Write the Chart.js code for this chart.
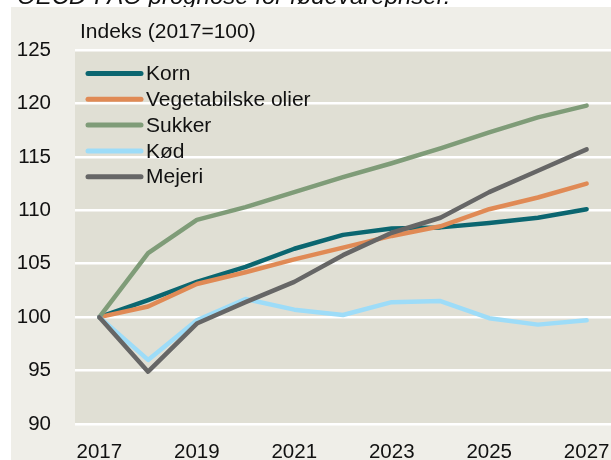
<!DOCTYPE html>
<html>
<head>
<meta charset="utf-8">
<script src="https://cdn.jsdelivr.net/npm/chart.js@4"></script>
<style>
  html, body { margin: 0; padding: 0; background: #ffffff; }
  canvas { display: block; }
</style>
</head>
<body>
<canvas id="c" width="611" height="460"></canvas>
<script>
const years = ['2017','2018','2019','2020','2021','2022','2023','2024','2025','2026','2027'];
const korn     = [100, 101.6, 103.3, 104.7, 106.4, 107.7, 108.3, 108.4, 108.8, 109.3, 110.1];
const vegOlier = [100, 101.0, 103.1, 104.2, 105.4, 106.5, 107.6, 108.5, 110.1, 111.2, 112.5];
const sukker   = [100, 106.0, 109.1, 110.3, 111.7, 113.1, 114.4, 115.8, 117.3, 118.7, 119.8];
const koed     = [100, 96.0, 99.7, 101.7, 100.7, 100.2, 101.4, 101.5, 99.9, 99.3, 99.7];
const mejeri   = [100, 94.9, 99.4, 101.4, 103.3, 105.8, 107.9, 109.3, 111.7, 113.7, 115.7];
const seriesNames = ['Korn', 'Vegetabilske olier', 'Sukker', 'Kød', 'Mejeri'];
const titleText = 'OECD-FAO prognose for fødevarepriser.';
const axisNote = 'Indeks (2017=100)';

const colors = {
  'Korn': '#0b6670',
  'Vegetabilske olier': '#e08a55',
  'Sukker': '#7f9c78',
  'Kød': '#9ddcf8',
  'Mejeri': '#666666'
};
const FONT = '"Liberation Sans", Arial, sans-serif';

function ds(label, data) {
  return {
    label, data,
    borderColor: colors[label],
    backgroundColor: colors[label],
    borderWidth: 4.5,
    pointRadius: 0,
    tension: 0,
    borderCapStyle: 'round',
    borderJoinStyle: 'round',
    fill: false
  };
}

const bgPlugin = {
  id: 'bg',
  beforeDraw(chart) {
    const ctx = chart.ctx, a = chart.chartArea;
    ctx.save();
    ctx.fillStyle = '#ffffff';
    ctx.fillRect(0, 0, chart.width, chart.height);
    ctx.fillStyle = '#111111';
    ctx.font = 'italic 24px ' + FONT;
    ctx.textBaseline = 'alphabetic';
    ctx.fillText(titleText, 17, 4);
    ctx.fillStyle = '#efeee8';
    ctx.fillRect(11, 7, chart.width - 11, chart.height - 7);
    ctx.fillStyle = '#e0dfd4';
    ctx.fillRect(a.left, a.top, a.right - a.left, a.bottom - a.top);
    ctx.restore();
  },
  afterDraw(chart) {
    const ctx = chart.ctx;
    ctx.save();
    ctx.fillStyle = '#111111';
    ctx.font = '21px ' + FONT;
    ctx.textBaseline = 'middle';
    ctx.fillText(axisNote, 80, 32);
    const y0 = 73.5, dy = 25.8;
    seriesNames.forEach((n, i) => {
      const y = y0 + i * dy;
      ctx.strokeStyle = colors[n];
      ctx.lineWidth = 5;
      ctx.lineCap = 'round';
      ctx.beginPath();
      ctx.moveTo(88, y);
      ctx.lineTo(141, y);
      ctx.stroke();
      ctx.fillStyle = '#111111';
      ctx.fillText(n, 146, y + 1);
    });
    ctx.restore();
  }
};

new Chart(document.getElementById('c'), {
  type: 'line',
  data: {
    labels: years,
    datasets: [
      ds('Mejeri', mejeri),
      ds('Kød', koed),
      ds('Sukker', sukker),
      ds('Vegetabilske olier', vegOlier),
      ds('Korn', korn)
    ]
  },
  options: {
    responsive: false,
    animation: false,
    devicePixelRatio: 1,
    layout: { padding: { top: 50, left: 0, right: 0, bottom: 0 } },
    plugins: { legend: { display: false }, tooltip: { enabled: false } },
    scales: {
      x: {
        type: 'category',
        offset: true,
        grid: { display: false, drawTicks: false },
        border: { display: false },
        ticks: {
          autoSkip: false, maxRotation: 0, minRotation: 0,
          padding: 16,
          color: '#111111',
          font: { family: FONT, size: 20.5 },
          callback: (v, i) => (i % 2 === 0 ? years[i] : '')
        },
        afterFit: s => { s.height = 36; s.paddingLeft = 0; s.paddingRight = 0; }
      },
      y: {
        min: 90, max: 125,
        grid: { color: '#ffffff', lineWidth: 2.5, drawTicks: false },
        border: { display: false },
        ticks: {
          stepSize: 5,
          padding: 24,
          color: '#111111',
          font: { family: FONT, size: 20.5 }
        },
        afterFit: s => { s.width = 75; s.paddingTop = 0; s.paddingBottom = 0; }
      }
    }
  },
  plugins: [bgPlugin]
});
</script>
</body>
</html>
